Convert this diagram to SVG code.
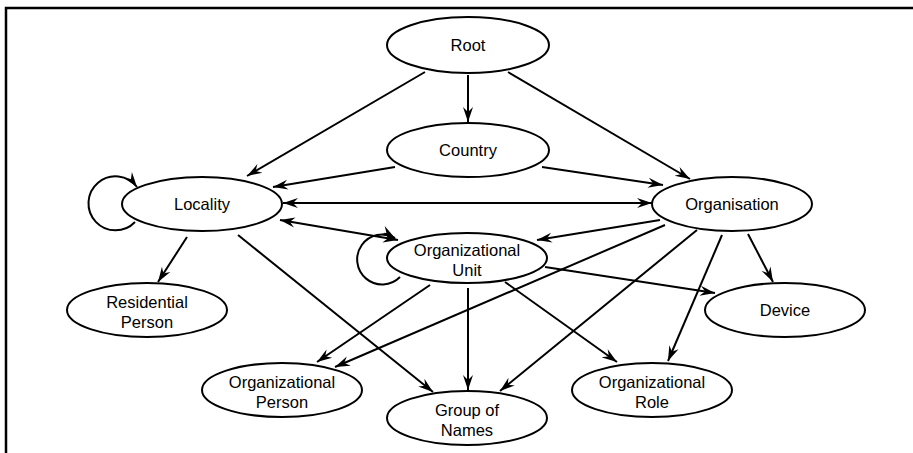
<svg xmlns="http://www.w3.org/2000/svg" width="913" height="453" viewBox="0 0 913 453">
<style>
.n ellipse{fill:#fff;stroke:#000;stroke-width:2}
.n text{font-family:"Liberation Sans",Arial,sans-serif;font-size:16.5px;fill:#000;text-anchor:middle}
.e path,.e line{fill:none;stroke:#000;stroke-width:2;marker-end:url(#ah)}
.e .both{marker-start:url(#ah)}
.frame{stroke:#000;stroke-width:2.5;fill:none}
</style>
<defs>
<marker id="ah" markerUnits="userSpaceOnUse" markerWidth="17" markerHeight="12" refX="15" refY="5" orient="auto-start-reverse" viewBox="0 0 17 10">
<path d="M0,0 L15,5 L0,10 L5,5 z" fill="#000"/>
</marker>
</defs>
<rect width="913" height="453" fill="#fff"/>
<path class="frame" d="M6,453 L6,8 L913,8"/>
<g id="connectors" class="e">
<line x1="468" y1="75" x2="468" y2="122"/>
<line x1="425" y1="72" x2="247" y2="176"/>
<line x1="508" y1="72" x2="690" y2="179"/>
<line x1="395" y1="167" x2="273" y2="187"/>
<line x1="542" y1="167" x2="663" y2="185"/>
<line class="both" x1="283" y1="203" x2="652" y2="203"/>
<line class="both" x1="280" y1="220" x2="398" y2="240"/>
<path d="M135,222 A27 27 0 1 1 137,187"/>
<line x1="187" y1="237" x2="158" y2="282"/>
<line x1="238" y1="235" x2="433" y2="392"/>
<line x1="660" y1="220" x2="537" y2="240"/>
<line x1="665" y1="225" x2="335" y2="367"/>
<line x1="697" y1="230" x2="500" y2="391"/>
<line x1="722" y1="235" x2="668" y2="361"/>
<line x1="748" y1="234" x2="773" y2="282"/>
<path d="M400,277 A25 25 0 1 1 395,238"/>
<line x1="430" y1="285" x2="317" y2="362"/>
<line x1="468" y1="288" x2="468" y2="390"/>
<line x1="505" y1="282" x2="617" y2="362"/>
<line x1="545" y1="267" x2="715" y2="293"/>
</g>
<g id="root" class="n"><ellipse cx="468" cy="45" rx="81" ry="28"/><text x="468" y="51">Root</text></g>
<g id="country" class="n"><ellipse cx="468" cy="150" rx="81" ry="27"/><text x="468" y="156">Country</text></g>
<g id="locality" class="n"><ellipse cx="202" cy="204" rx="80" ry="27"/><text x="202" y="210">Locality</text></g>
<g id="organisation" class="n"><ellipse cx="732" cy="204" rx="80" ry="27"/><text x="732" y="210">Organisation</text></g>
<g id="org-unit" class="n"><ellipse cx="467" cy="258" rx="80" ry="25"/><text x="467" y="256">Organizational</text><text x="467" y="276">Unit</text></g>
<g id="residential-person" class="n"><ellipse cx="147" cy="310" rx="80" ry="27"/><text x="147" y="308">Residential</text><text x="147" y="328">Person</text></g>
<g id="device" class="n"><ellipse cx="785" cy="310" rx="80" ry="27"/><text x="785" y="316">Device</text></g>
<g id="org-person" class="n"><ellipse cx="282" cy="390" rx="80" ry="27"/><text x="282" y="388">Organizational</text><text x="282" y="408">Person</text></g>
<g id="org-role" class="n"><ellipse cx="652" cy="390" rx="80" ry="27"/><text x="652" y="388">Organizational</text><text x="652" y="408">Role</text></g>
<g id="group-of-names" class="n"><ellipse cx="467" cy="418" rx="80" ry="27"/><text x="467" y="416">Group of</text><text x="467" y="436">Names</text></g>
</svg>
